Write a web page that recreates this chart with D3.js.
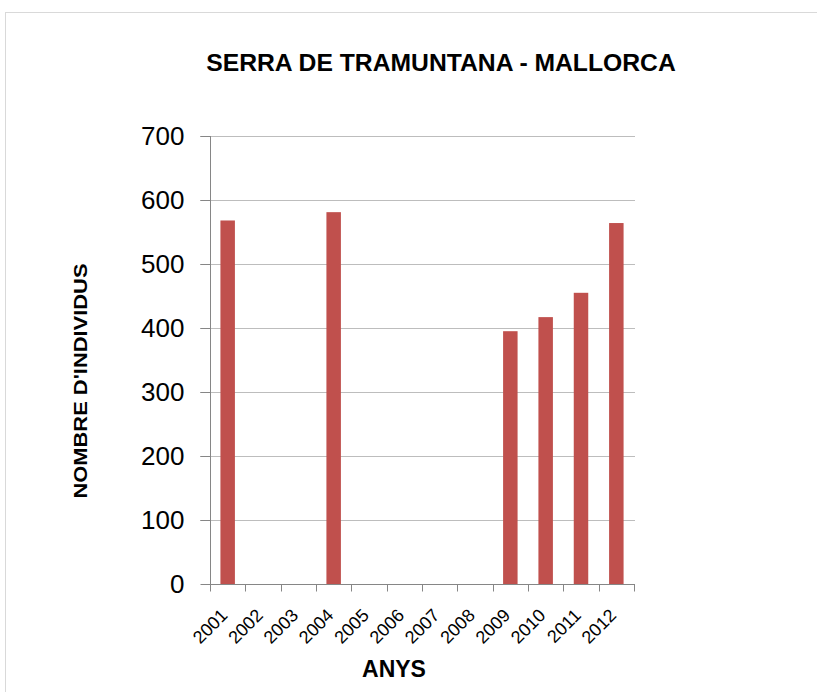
<!DOCTYPE html>
<html><head><meta charset="utf-8">
<script src="https://cdn.jsdelivr.net/npm/d3@7"></script>
<style>body{margin:0;background:#fff}svg{display:block;font-family:Arial,"Liberation Sans",sans-serif}</style>
</head><body>
<script>
const years = ["2001","2002","2003","2004","2005","2006","2007","2008","2009","2010","2011","2012"];
const values = [568, 0, 0, 581, 0, 0, 0, 0, 395, 417, 455, 564];
const yTicks = [0,100,200,300,400,500,600,700];

const W = 817, H = 692;
const svg = d3.select("body").append("svg").attr("width", W).attr("height", H);
svg.append("rect").attr("x",5.5).attr("y",12.5).attr("width",W+10).attr("height",H+10)
  .attr("fill","#fff").attr("stroke","#d9d9d9");

const x0 = 210, x1 = 634, yTop = 136, yBot = 584;
const x = d3.scaleBand().domain(years).range([x0, x1]).paddingInner(0.59).paddingOuter(0.295);
const y = d3.scaleLinear().domain([0,700]).range([yBot, yTop]);

// gridlines
svg.append("g").selectAll("line").data(yTicks.filter(d=>d>0)).join("line")
  .attr("x1",200).attr("x2",635).attr("y1",d=>y(d)+0.5).attr("y2",d=>y(d)+0.5)
  .attr("stroke","#bdbdbd").attr("stroke-width",1);

// bars
svg.append("g").selectAll("rect").data(years.map((c,i)=>({c,v:values[i]})).filter(d=>d.v>0)).join("rect")
  .attr("x",d=>x(d.c)).attr("width",x.bandwidth())
  .attr("y",d=>y(d.v)).attr("height",d=>yBot-y(d.v)).attr("fill","#c0504d");

// y axis
const ya = svg.append("g").attr("transform",`translate(${x0+0.5},0)`)
  .call(d3.axisLeft(y).tickValues(yTicks).tickSize(10).tickPadding(16));
ya.select(".domain").attr("stroke","#868686").attr("d",`M0,${yTop}V${yBot}`);
ya.selectAll(".tick line").attr("stroke","#868686");
ya.selectAll(".tick text").attr("font-size",26).attr("fill","#000").attr("font-family","Arial, Liberation Sans, sans-serif");
ya.selectAll(".tick line").attr("x2",-10);

// x axis
const step = (x1-x0)/years.length;
const xa = svg.append("g").attr("transform",`translate(0,${yBot+0.5})`);
xa.append("line").attr("x1",x0).attr("x2",x1+1).attr("stroke","#868686");
xa.selectAll(".tk").data(d3.range(years.length+1)).join("line")
  .attr("x1",i=>Math.round(x0+i*step)+0.5).attr("x2",i=>Math.round(x0+i*step)+0.5)
  .attr("y1",0).attr("y2",7).attr("stroke","#868686");
xa.selectAll("text").data(years).join("text")
  .attr("transform",d=>`translate(${x(d)+x.bandwidth()/2+1},${32}) rotate(-45)`)
  .attr("text-anchor","end").attr("font-size",18).attr("fill","#000").text(d=>d);

// titles
svg.append("text").attr("x",441).attr("y",71).attr("text-anchor","middle")
  .attr("font-size",24.7).attr("font-weight","bold").text("SERRA DE TRAMUNTANA - MALLORCA");
svg.append("text").attr("x",394).attr("y",677).attr("text-anchor","middle")
  .attr("font-size",23).attr("font-weight","bold").text("ANYS");
svg.append("text").attr("transform","translate(87,381) rotate(-90)").attr("text-anchor","middle")
  .attr("font-size",18.5).attr("font-weight","bold")
  .attr("textLength",235).attr("lengthAdjust","spacingAndGlyphs").text("NOMBRE D'INDIVIDUS");
</script>
</body></html>
